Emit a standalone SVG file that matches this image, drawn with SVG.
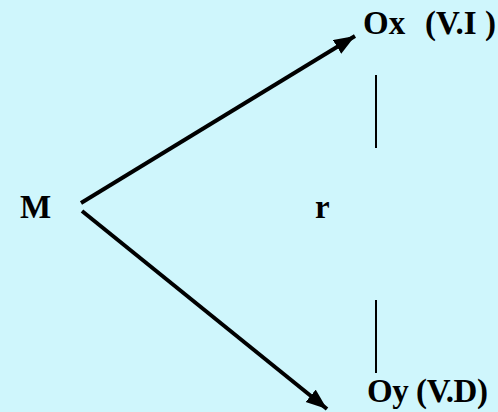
<svg xmlns="http://www.w3.org/2000/svg" width="498" height="412" viewBox="0 0 498 412">
<style>
.lbl{font-family:"Liberation Serif","Times New Roman",serif;font-weight:bold;font-size:33px;fill:#000}
.arr{stroke:#000;stroke-width:4;fill:none;marker-end:url(#ah)}
.tick{stroke:#000;stroke-width:2;fill:none}
</style>
<defs>
<marker id="ah" markerUnits="userSpaceOnUse" markerWidth="24" markerHeight="18" refX="21" refY="8" orient="auto">
<path d="M0,0 L21,8 L0,16 Z" fill="#000"/>
</marker>
</defs>
<rect width="498" height="412" fill="#cff6fc"/>
<g id="connectors">
<line class="arr" x1="81" y1="203" x2="355" y2="36"/>
<line class="arr" x1="82" y1="211" x2="327" y2="409"/>
<line class="tick" x1="376" y1="75" x2="376" y2="148"/>
<line class="tick" x1="376" y1="300" x2="376" y2="373"/>
</g>
<g id="node-M"><text class="lbl" x="20" y="218">M</text></g>
<g id="node-r"><text class="lbl" x="315" y="218">r</text></g>
<g id="node-Ox"><text class="lbl" x="363" y="34">Ox</text><text class="lbl" x="425" y="34">(V.I )</text></g>
<g id="node-Oy"><text class="lbl" x="367" y="402" textLength="121" lengthAdjust="spacing">Oy (V.D)</text></g>
</svg>
